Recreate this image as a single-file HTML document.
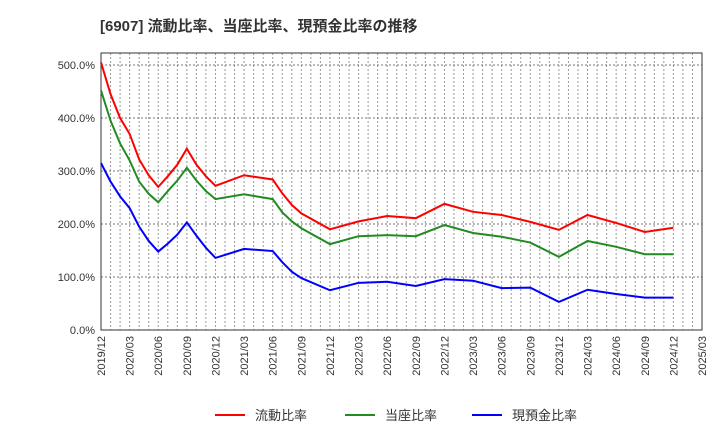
<!DOCTYPE html>
<html><head><meta charset="utf-8"><style>
body{margin:0;background:#fff;font-family:"Liberation Sans","Noto Sans CJK JP",sans-serif;}
</style></head><body>
<svg width="720" height="440" xmlns="http://www.w3.org/2000/svg" id="chart" font-family="Liberation Sans, Noto Sans CJK JP, sans-serif">
<text x="100" y="31" font-size="15" font-weight="bold" fill="#333">[6907]  流動比率、当座比率、現預金比率の推移</text>
<g id="grid"></g><g id="axes"></g><g id="series"></g><g id="legend"></g>
</svg>
<script>
const monthIdx=[0,1,2,3,4,5,6,7,8,9,10,11,12,15,18,19,20,21,24,27,30,33,36,39,42,45,48,51,54,57,60];
const currentRatio=[505,445,400,370,322,292,270,290,312,342,312,290,272,292,284,258,236,220,190,205,215,211,238,223,217,204,189,217,202,185,193];
const quickRatio=[452,395,352,320,280,257,241,262,282,306,282,262,247,256,247,222,205,192,162,177,179,177,198,183,176,165,138,168,157,143,143];
const cashRatio=[315,280,252,230,195,168,148,163,180,203,178,155,136,153,149,128,110,98,75,89,91,83,96,93,79,80,53,76,68,61,61];
const yTicks=[0,100,200,300,400,500];
const xTickLabels=["2019/12","2020/03","2020/06","2020/09","2020/12","2021/03","2021/06","2021/09","2021/12","2022/03","2022/06","2022/09","2022/12","2023/03","2023/06","2023/09","2023/12","2024/03","2024/06","2024/09","2024/12","2025/03"];
const seriesNames=["流動比率","当座比率","現預金比率"];
const colors=["#ff0000","#228b22","#0000ff"];
const L=101,R=702,T=53,B=330;
const xs=i=>L+i*(R-L)/63;
const ys=v=>B-v*0.53;
const NS="http://www.w3.org/2000/svg";
function mk(tag,attrs,parent){const e=document.createElementNS(NS,tag);for(const k in attrs)e.setAttribute(k,attrs[k]);parent.appendChild(e);return e;}
const grid=document.getElementById('grid'),axes=document.getElementById('axes'),ser=document.getElementById('series'),leg=document.getElementById('legend');
for(let m=1;m<63;m++){const g=mk('line',{x1:xs(m),x2:xs(m),y1:T,y2:B,stroke:'#999','stroke-dasharray':'2,2','stroke-width':1},grid);

}
yTicks.forEach(v=>{if(v>0){const g=mk('line',{x1:L,x2:R,y1:ys(v),y2:ys(v),stroke:'#777','stroke-dasharray':'2,2','stroke-width':1},grid);

}
const t=mk('text',{x:L-6,y:ys(v)+4,'text-anchor':'end','font-size':11,fill:'#333'},axes);t.textContent=v.toFixed(1)+'%';

});
xTickLabels.forEach((s,i)=>{const x=xs(i*3);const t=mk('text',{x:x+4,y:B+6,'text-anchor':'end','font-size':11,fill:'#333',transform:`rotate(-90 ${x+4} ${B+6})`},axes);t.textContent=s;

});
const fr=mk('rect',{x:L,y:T,width:R-L,height:B-T,fill:'none',stroke:'#333','stroke-width':1},axes);


[currentRatio,quickRatio,cashRatio].forEach((arr,k)=>{const p=mk('polyline',{points:arr.map((v,i)=>xs(monthIdx[i])+','+ys(v)).join(' '),fill:'none',stroke:colors[k],'stroke-width':2},ser);

});
const lx=[215,345,472];
seriesNames.forEach((n,k)=>{const g=mk('g',{},leg);


mk('line',{x1:lx[k],x2:lx[k]+30,y1:415,y2:415,stroke:colors[k],'stroke-width':2},g);
const t=mk('text',{x:lx[k]+40,y:420,'font-size':13,fill:'#333'},g);t.textContent=n;});
</script>
</body></html>
